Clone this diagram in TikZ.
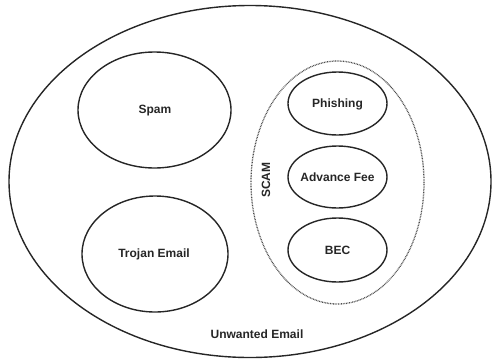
\documentclass[tikz,border=0pt]{standalone}
\usepackage{fontspec}
\setmainfont{Liberation Sans}
\usetikzlibrary{shapes.geometric}
\begin{document}
\begin{tikzpicture}[x=1pt,y=-1pt,
  set/.style={draw=black!85,line width=1.4pt},
  lbl/.style={font=\bfseries\fontsize{12}{14}\selectfont,text=black!85}]
\useasboundingbox (0,0) rectangle (492,362);
% outer set and the two plain classes
\draw[set] (250,181.5) ellipse [x radius=241, y radius=176];
\draw[set] (154.5,110) ellipse [x radius=76.5, y radius=58];
\draw[set] (155,254) ellipse [x radius=73, y radius=58];
% dotted scam group
\draw[draw=black!70,line width=1.3pt,dash pattern=on 0.8pt off 0.8pt] (337.5,182.5) ellipse [x radius=86.5, y radius=121.5];
% scam subclasses
\draw[set] (337.5,103.5) ellipse [x radius=49.5, y radius=31.5];
\draw[set] (337.5,177) ellipse [x radius=49.5, y radius=31];
\draw[set] (337.5,250) ellipse [x radius=49.5, y radius=32];
% labels
\node[lbl] (unwanted) at (257,334) {Unwanted Email};
\node[lbl] (spam) at (155,111) {Spam};
\node[lbl] (trojan) at (154,254) {Trojan Email};
\node[lbl] (phishing) at (337.5,104) {Phishing};
\node[lbl] (advance) at (337.5,177) {Advance Fee};
\node[lbl] (bec) at (337.5,250) {BEC};
\node[lbl,rotate=90] (scam) at (266,180) {SCAM};
\end{tikzpicture}
\end{document}
